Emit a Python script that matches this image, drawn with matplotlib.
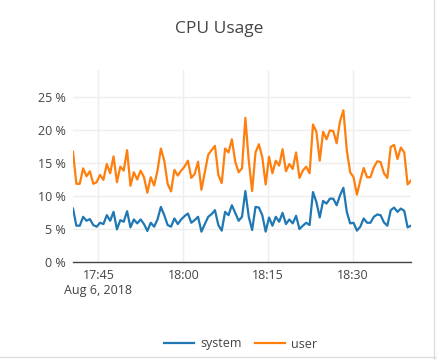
#!/usr/bin/env python3
import pandas as pd
import matplotlib
matplotlib.use("Agg")
import matplotlib.pyplot as plt
from matplotlib.lines import Line2D

# sample window (about 36 s between samples)
START = "2018-08-06 17:40:30"
END = "2018-08-06 18:40:15"
N_POINTS = 101

# CPU usage in percent
system = [
    8.1, 5.5, 5.5, 6.85, 6.25, 6.5, 5.6, 5.35, 5.95, 5.75,
    7.1, 6.25, 7.6, 4.95, 6.35, 6.1, 7.7, 5.25, 6.45, 5.85,
    6.45, 5.75, 4.7, 5.95, 5.35, 6.45, 8.35, 7.1, 5.6, 5.35,
    6.6, 5.75, 6.45, 6.95, 7.35, 5.95, 6.35, 6.85, 4.6, 5.75,
    6.85, 7.25, 7.85, 5.6, 4.75, 7.6, 7.1,
    8.6, 7.45, 6.25, 6.85, 10.75, 6.85, 4.85, 8.35, 8.25, 7.1,
    4.6, 6.75, 5.5, 6.85, 6.1, 7.45, 5.75, 6.45, 5.85, 7.0,
    5.0, 5.5, 5.95, 5.6, 10.6, 9.1, 6.75, 9.25, 8.85, 9.6,
    9.6, 8.6, 10.1, 11.25, 7.6, 5.85, 5.95, 4.75, 5.35, 6.6,
    5.95, 5.95, 6.85, 7.2, 7.1, 6.0, 5.5, 7.85, 8.25, 7.6,
    8.1, 7.75, 5.25, 5.5,
]
user = [
    16.7, 11.85, 11.85, 14.2, 13.0, 13.75, 11.85, 12.1, 13.2, 12.45,
    14.85, 13.45, 16.0, 12.1, 14.45, 13.85, 16.95, 11.55, 13.6, 12.5,
    13.85, 12.85, 10.5, 12.85, 11.6, 13.85, 17.2, 15.35, 11.85, 10.7,
    13.95, 13.1, 13.85, 14.45, 15.35, 12.75, 13.35, 15.2, 10.95, 13.6,
    16.25, 16.95, 17.6, 13.2, 11.95, 17.2, 16.6,
    18.6, 15.2, 13.6, 14.2, 21.85, 15.35, 10.75, 16.6, 17.85, 15.85,
    11.75, 15.95, 13.45, 15.35, 14.6, 17.1, 13.75, 14.85, 14.1, 16.6,
    12.75, 13.85, 14.45, 13.45, 20.85, 19.75, 15.35, 19.75, 18.6, 19.95,
    19.85, 18.0, 21.35, 23.0, 16.95, 13.6, 12.85, 10.2, 12.35, 14.25,
    12.85, 12.85, 14.35, 15.25, 15.15, 13.45, 12.75, 17.45, 17.75, 15.6,
    17.35, 16.6, 11.75, 12.35,
]

x_ticks = ["2018-08-06 17:45", "2018-08-06 18:00", "2018-08-06 18:15", "2018-08-06 18:30"]
x_tick_labels = ["17:45\nAug 6, 2018", "18:00", "18:15", "18:30"]
y_ticks = [0, 5, 10, 15, 20, 25]

BLUE = "#1f77b4"
ORANGE = "#ff7f0e"
TEXT = "#444444"

plt.rcParams["font.family"] = ["Open Sans", "DejaVu Sans"]

times = pd.date_range(START, END, periods=N_POINTS)
df = pd.DataFrame({"time": times, "system": system, "user": user})

fig = plt.figure(figsize=(4.37, 3.6), dpi=100)
ax = fig.add_axes([73 / 437, 1 - 262 / 360, (411 - 73) / 437, (262 - 70) / 360])

ax.plot(df["time"], df["system"], color=BLUE, lw=1.6, zorder=3)
ax.plot(df["time"], df["user"], color=ORANGE, lw=1.6, zorder=3)

ax.set_xlim(times[0], times[-1])
ax.set_ylim(0, 29.1)
ax.set_yticks(y_ticks)
ax.set_yticklabels([f"{v} %" for v in y_ticks])
ax.set_xticks(pd.to_datetime(x_ticks))
ax.set_xticklabels(x_tick_labels)

ax.grid(True, color="#eeeeee", lw=1)
ax.set_axisbelow(True)
for s in ["top", "right", "left"]:
    ax.spines[s].set_visible(False)
ax.spines["bottom"].set_color(TEXT)
ax.spines["bottom"].set_linewidth(1)
ax.tick_params(axis="both", length=0, labelsize=9, colors=TEXT)
ax.tick_params(axis="y", pad=5)
ax.tick_params(axis="x", pad=5)

fig.text(0.501, 1 - 29 / 360, "CPU Usage", ha="center", va="center",
         fontsize=12.5, color=TEXT)

handles = [Line2D([], [], color=BLUE, lw=1.6), Line2D([], [], color=ORANGE, lw=1.6)]
leg = fig.legend(handles, ["system", "user"], loc="center",
                 bbox_to_anchor=(0.551, 1 - 344 / 360), ncol=2, frameon=False,
                 fontsize=9, handlelength=2.4, columnspacing=1.0, handletextpad=0.5)
for t in leg.get_texts():
    t.set_color(TEXT)

# light card border on the right and bottom
fig.add_artist(Line2D([434 / 437, 434 / 437], [0, 1], color="#dddddd", lw=1))
fig.add_artist(Line2D([0, 1], [1 / 360 * 3, 1 / 360 * 3], color="#dddddd", lw=1))

fig.savefig("out.png", dpi=100)
plt.close(fig)
